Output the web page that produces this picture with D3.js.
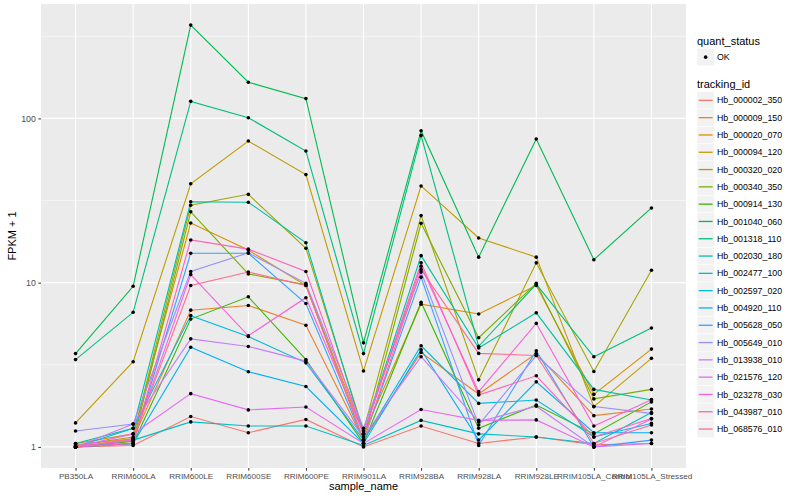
<!DOCTYPE html>
<html>
<head>
<meta charset="utf-8">
<script src="https://cdn.jsdelivr.net/npm/d3@7"></script>
<style>
  body { margin: 0; background: #fff; }
  text { font-family: "Liberation Sans", Arial, Helvetica, sans-serif; }
</style>
</head>
<body>
<svg id="chart" width="800" height="500"></svg>
<script>
// ---------- data ----------
const samples = ["PB350LA","RRIM600LA","RRIM600LE","RRIM600SE","RRIM600PE","RRIM901LA",
  "RRIM928BA","RRIM928LA","RRIM928LE","RRIM105LA_Control","RRIM105LA_Stressed"];

const trackingIds = ["Hb_000002_350","Hb_000009_150","Hb_000020_070","Hb_000094_120",
  "Hb_000320_020","Hb_000340_350","Hb_000914_130","Hb_001040_060","Hb_001318_110",
  "Hb_002030_180","Hb_002477_100","Hb_002597_020","Hb_004920_110","Hb_005628_050",
  "Hb_005649_010","Hb_013938_010","Hb_021576_120","Hb_023278_030","Hb_043987_010",
  "Hb_068576_010"];

// FPKM + 1 per sample (order of samples)
const hb_000002_350 = [1.00, 1.02, 1.53, 1.22, 1.47, 1.00, 1.34, 1.05, 1.15, 1.03, 1.05];
const hb_000009_150 = [1.03, 1.12, 6.80, 7.26, 5.50, 1.10, 3.76, 2.10, 3.70, 1.55, 1.70];
const hb_000020_070 = [1.05, 1.20, 23.1, 15.8, 9.60, 1.20, 7.40, 6.45, 9.60, 2.09, 3.94];
const hb_000094_120 = [1.40, 3.30, 40.0, 72.8, 45.5, 2.90, 38.8, 18.7, 14.3, 1.76, 3.46];
const hb_000320_020 = [1.02, 1.15, 29.6, 34.5, 16.2, 1.25, 25.6, 2.56, 13.2, 2.88, 11.9];
const hb_000340_350 = [1.00, 1.08, 27.0, 11.3, 9.70, 1.10, 23.0, 4.62, 9.90, 1.96, 2.24];
const hb_000914_130 = [1.00, 1.05, 6.00, 8.20, 3.40, 1.05, 7.60, 1.30, 1.80, 1.20, 1.88];
const hb_001040_060 = [3.70, 9.50, 370, 166, 132, 4.30, 84.2, 14.3, 75.0, 13.8, 28.5];
const hb_001318_110 = [3.40, 6.60, 127, 101, 63.3, 3.70, 78.8, 4.10, 9.80, 3.54, 5.30];
const hb_002030_180 = [1.05, 1.30, 31.1, 30.9, 17.5, 1.20, 14.6, 4.00, 6.55, 2.24, 1.93];
const hb_002477_100 = [1.00, 1.10, 1.42, 1.34, 1.34, 1.02, 1.45, 1.20, 1.15, 1.05, 1.62];
const hb_002597_020 = [1.00, 1.30, 6.30, 4.70, 3.25, 1.10, 4.13, 1.84, 1.93, 1.15, 1.39];
const hb_004920_110 = [1.00, 1.05, 4.04, 2.87, 2.33, 1.05, 3.90, 1.10, 2.49, 1.22, 1.22];
const hb_005628_050 = [1.00, 1.05, 15.1, 15.1, 7.46, 1.10, 10.8, 1.02, 3.85, 1.00, 1.10];
const hb_005649_010 = [1.25, 1.38, 11.7, 15.2, 9.90, 1.30, 11.6, 1.36, 3.60, 1.76, 1.60];
const hb_013938_010 = [1.00, 1.38, 4.55, 4.09, 3.33, 1.15, 3.54, 1.42, 1.77, 1.00, 1.05];
const hb_021576_120 = [1.00, 1.20, 2.11, 1.68, 1.75, 1.05, 1.69, 1.45, 1.46, 1.00, 1.48];
const hb_023278_030 = [1.00, 1.10, 11.2, 4.75, 8.10, 1.20, 12.6, 2.17, 5.65, 1.34, 1.94];
const hb_043987_010 = [1.00, 1.05, 18.2, 16.0, 11.7, 1.20, 13.2, 2.07, 2.71, 1.15, 1.49];
const hb_068576_010 = [1.00, 1.12, 9.60, 11.6, 9.60, 1.10, 12.0, 3.71, 3.60, 1.05, 1.36];

const seriesValues = [hb_000002_350, hb_000009_150, hb_000020_070, hb_000094_120,
  hb_000320_020, hb_000340_350, hb_000914_130, hb_001040_060, hb_001318_110,
  hb_002030_180, hb_002477_100, hb_002597_020, hb_004920_110, hb_005628_050,
  hb_005649_010, hb_013938_010, hb_021576_120, hb_023278_030, hb_043987_010,
  hb_068576_010];

const yTicks = [1, 10, 100];
const yMinor = [Math.sqrt(10), Math.sqrt(1000), Math.sqrt(100000)];
const quantStatus = ["OK"];

// ggplot2 hue palette for 20 levels
const palette = ["#F8766D","#EA8331","#D89000","#C09B00","#A3A500","#7CAE00","#39B600",
  "#00BB4E","#00BF7D","#00C1A3","#00BFC4","#00BAE0","#00B0F6","#35A2FF","#9590FF",
  "#C77CFF","#E76BF3","#FA62DB","#FF62BC","#FF6C91"];

// ---------- layout ----------
const svg = d3.select("#chart");
const panel = { left: 41, right: 686, top: 4, bottom: 468 };

const x = d3.scalePoint().domain(samples)
  .range([panel.left, panel.right]).padding(0.6);

const allVals = seriesValues.flat();
const lmin = Math.log10(d3.min(allVals)), lmax = Math.log10(d3.max(allVals));
const ex = (lmax - lmin) * 0.05;
const y = d3.scaleLog().domain([Math.pow(10, lmin - ex), Math.pow(10, lmax + ex)])
  .range([panel.bottom, panel.top]);

const color = d3.scaleOrdinal().domain(trackingIds).range(palette);

// panel background
svg.append("rect").attr("x", panel.left).attr("y", panel.top)
  .attr("width", panel.right - panel.left).attr("height", panel.bottom - panel.top)
  .attr("fill", "#EBEBEB");

// minor grid
svg.append("g").selectAll("line").data(yMinor).join("line")
  .attr("x1", panel.left).attr("x2", panel.right)
  .attr("y1", d => y(d)).attr("y2", d => y(d))
  .attr("stroke", "#fff").attr("stroke-width", 0.55);

// major grid
svg.append("g").selectAll("line").data(yTicks).join("line")
  .attr("x1", panel.left).attr("x2", panel.right)
  .attr("y1", d => y(d)).attr("y2", d => y(d))
  .attr("stroke", "#fff").attr("stroke-width", 1.1);
svg.append("g").selectAll("line").data(samples).join("line")
  .attr("x1", d => x(d)).attr("x2", d => x(d))
  .attr("y1", panel.top).attr("y2", panel.bottom)
  .attr("stroke", "#fff").attr("stroke-width", 1.1);

// lines
const series = trackingIds.map((id, i) => ({
  id, values: samples.map((s, j) => ({ s, v: seriesValues[i][j] }))
}));
const line = d3.line().x(d => x(d.s)).y(d => y(d.v));
svg.append("g").selectAll("path").data(series).join("path")
  .attr("d", d => line(d.values))
  .attr("fill", "none")
  .attr("stroke", d => color(d.id))
  .attr("stroke-width", 1.1);

// points
svg.append("g").selectAll("circle")
  .data(series.flatMap(d => d.values)).join("circle")
  .attr("cx", d => x(d.s)).attr("cy", d => y(d.v))
  .attr("r", 1.8).attr("fill", "#000");

// axes
const xAxis = d3.axisBottom(x).tickSize(2.7).tickPadding(2.5);
const gx = svg.append("g").attr("transform", `translate(0,${panel.bottom})`).call(xAxis);
gx.select(".domain").remove();
gx.selectAll(".tick line").attr("stroke", "#333");
gx.selectAll(".tick text").attr("fill", "#4D4D4D").style("font-size", "8.1px");

const yAxis = d3.axisLeft(y).tickValues(yTicks).tickFormat(d3.format("d"))
  .tickSize(2.7).tickPadding(2.5);
const gy = svg.append("g").attr("transform", `translate(${panel.left},0)`).call(yAxis);
gy.select(".domain").remove();
gy.selectAll(".tick line").attr("stroke", "#333");
gy.selectAll(".tick text").attr("fill", "#4D4D4D").style("font-size", "8.8px");

// axis titles
svg.append("text").attr("x", (panel.left + panel.right) / 2).attr("y", 490)
  .attr("text-anchor", "middle").style("font-size", "11px").attr("fill", "#000")
  .text("sample_name");
svg.append("text").attr("transform", `translate(16,${(panel.top + panel.bottom) / 2}) rotate(-90)`)
  .attr("text-anchor", "middle").style("font-size", "11px").attr("fill", "#000")
  .text("FPKM + 1");

// legends
const lg = svg.append("g");
const keyX = 697, keyW = 17.3, labX = 717;
lg.append("text").attr("x", keyX).attr("y", 44.5).style("font-size", "11px").text("quant_status");
const qk = lg.selectAll("g.q").data(quantStatus).join("g").attr("class", "q")
  .attr("transform", (d, i) => `translate(${keyX},${48.5 + i * keyW})`);
qk.append("rect").attr("width", keyW).attr("height", keyW).attr("fill", "#F2F2F2")
  .attr("stroke", "#fff").attr("stroke-width", 0.5);
qk.append("circle").attr("cx", keyW / 2).attr("cy", keyW / 2).attr("r", 1.8).attr("fill", "#000");
qk.append("text").attr("x", labX - keyX).attr("y", keyW / 2 + 3.1)
  .style("font-size", "8.8px").attr("fill", "#000").text(d => d);

lg.append("text").attr("x", keyX).attr("y", 88).style("font-size", "11px").text("tracking_id");
const tk = lg.selectAll("g.t").data(trackingIds).join("g").attr("class", "t")
  .attr("transform", (d, i) => `translate(${keyX},${91.7 + i * keyW})`);
tk.append("rect").attr("width", keyW).attr("height", keyW).attr("fill", "#F2F2F2")
  .attr("stroke", "#fff").attr("stroke-width", 0.5);
tk.append("line").attr("x1", 1.7).attr("x2", keyW - 1.7)
  .attr("y1", keyW / 2).attr("y2", keyW / 2)
  .attr("stroke", d => color(d)).attr("stroke-width", 1.3);
tk.append("text").attr("x", labX - keyX).attr("y", keyW / 2 + 3.1)
  .style("font-size", "8.8px").attr("fill", "#000").text(d => d);
</script>
</body>
</html>
